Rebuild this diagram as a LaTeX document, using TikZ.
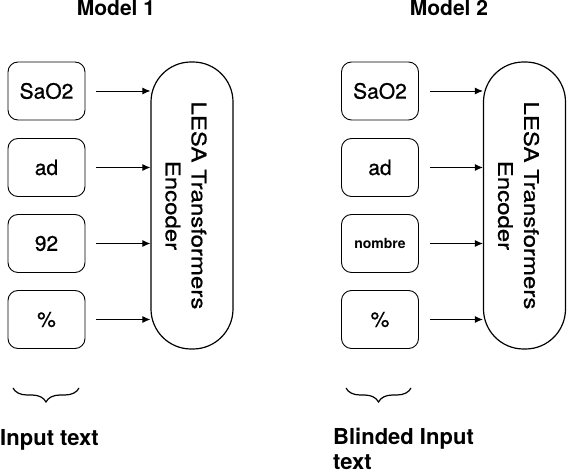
\documentclass[tikz,border=0pt]{standalone}
\usepackage{fontspec}
\setmainfont{TeX Gyre Heros}
\newfontface\medfont{TeX Gyre Heros}[FakeBold=0.8]
\usetikzlibrary{arrows.meta,decorations.pathreplacing}

\begin{document}
\begin{tikzpicture}[x=1pt,y=1pt,
  token/.style={draw=drawColor,line width=0.9pt,rounded corners=10pt,
    minimum width=77pt,minimum height=58pt,inner sep=0pt,
    font=\medfont\fontsize{21}{24}\selectfont},
  encoder/.style={draw=drawColor,line width=1.2pt,rounded corners=40pt,
    minimum width=82pt,minimum height=287pt,inner sep=0pt},
  enctext/.style={rotate=-90,xscale=1.2,align=center,inner sep=0pt,
    font=\medfont\fontsize{20}{26}\selectfont},
  feed/.style={draw=drawColor,line width=0.9pt,-{Latex[length=8pt,width=7pt]}},
  title/.style={anchor=base,inner sep=0pt,font=\fontsize{21}{24}\bfseries},
  caption/.style={anchor=base west,align=left,inner sep=0pt,
    font=\fontsize{22}{25}\bfseries},
  tokbrace/.style={draw=drawColor,line width=1.2pt,decorate,
    decoration={brace,mirror,amplitude=14pt}}]
\definecolor{drawColor}{RGB}{0,0,0}
\definecolor{fillColor}{RGB}{255,255,255}
\path[use as bounding box,fill=fillColor] (0,0) rectangle (568,474);

% Model 1
\node[title] (m1) at (116,458) {Model 1};
\node[token] (a1) at (46.5,383.0) {SaO2};
\node[token] (a2) at (46.5,306.5) {ad};
\node[token] (a3) at (46.5,230.5) {92};
\node[token] (a4) at (46.5,154.5) {\%};
\node[encoder] (e1) at (192,268.5) {};
\node[enctext] (t1) at (186,268.5) {LESA Transformers\\Encoder};
\foreach \i in {1,...,4}
  \draw[feed] ([xshift=11pt]a\i.east) -- (a\i.east -| e1.west);
\coordinate (l1) at (13,86);
\coordinate (r1) at (79,86);
\draw[tokbrace] (l1) -- (r1);
\node[caption] (c1) at (0,28) {Input text};

% Model 2
\node[title] (m2) at (449,458) {Model 2};
\node[token] (b1) at (380,383.0) {SaO2};
\node[token] (b2) at (380,306.5) {ad};
\node[token,font=\fontsize{14}{16}\bfseries] (b3) at (380,230.5) {nombre};
\node[token] (b4) at (380,154.5) {\%};
\node[encoder] (e2) at (524.5,268.5) {};
\node[enctext] (t2) at (518.5,268.5) {LESA Transformers\\Encoder};
\foreach \i in {1,...,4}
  \draw[feed] ([xshift=11pt]b\i.east) -- (b\i.east -| e2.west);
\coordinate (l2) at (346,86);
\coordinate (r2) at (411,86);
\draw[tokbrace] (l2) -- (r2);
\node[caption] (c2) at (333,4) {Blinded Input\\text};
\end{tikzpicture}
\end{document}
